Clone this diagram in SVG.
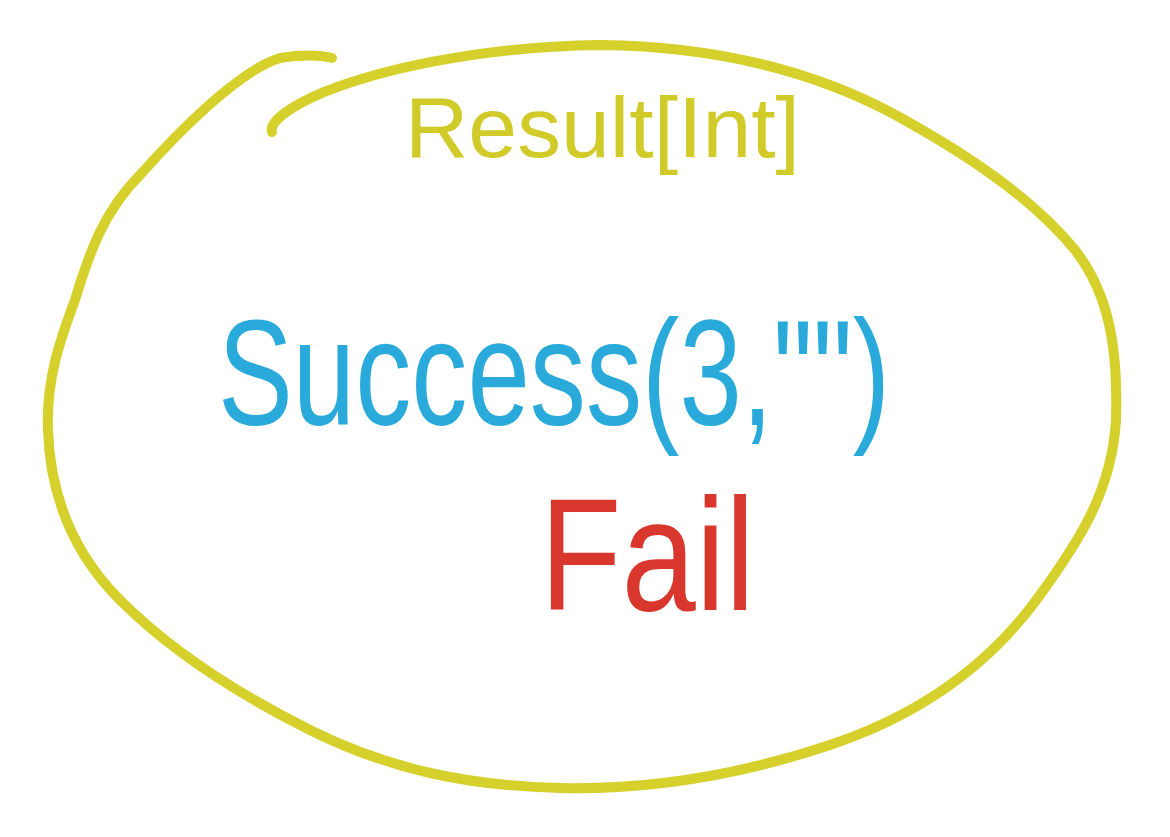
<svg xmlns="http://www.w3.org/2000/svg" width="1170" height="837" viewBox="0 0 1170 837">
<style>
.loop{fill:none;stroke:#d6d02c;stroke-width:10;stroke-linecap:round;stroke-linejoin:round}
.t{font-family:"Liberation Sans",Arial,sans-serif;}
</style>
<rect width="1170" height="837" fill="#ffffff"/>
<g id="loop">
<path class="loop" d="M272,132 C268,120 300,100 340,86 C420,58 520,46 600,45 C700,46 800,65 890,112 C960,150 1030,195 1075,250 C1110,295 1118,350 1116,420 C1112,490 1080,540 1040,595 C990,665 920,715 830,745 C740,775 650,790 560,788 C470,786 390,770 310,730 C240,695 170,650 120,600 C70,550 50,490 48,430 C46,380 60,340 75,300 C90,250 105,210 140,175 C180,130 240,70 280,58 C300,55 320,55 332,58"/>
</g>
<g id="label-result">
<text class="t" x="405" y="157" font-size="86" fill="#d0cb28" textLength="395" lengthAdjust="spacingAndGlyphs">Result[Int]</text>
</g>
<g id="label-success">
<text class="t" x="218" y="425" font-size="150" fill="#2aaadb" textLength="672" lengthAdjust="spacingAndGlyphs">Success(3,"")</text>
</g>
<g id="label-fail">
<text class="t" x="540" y="610" font-size="160" fill="#d9362d" textLength="215" lengthAdjust="spacingAndGlyphs">Fail</text>
</g>
</svg>
